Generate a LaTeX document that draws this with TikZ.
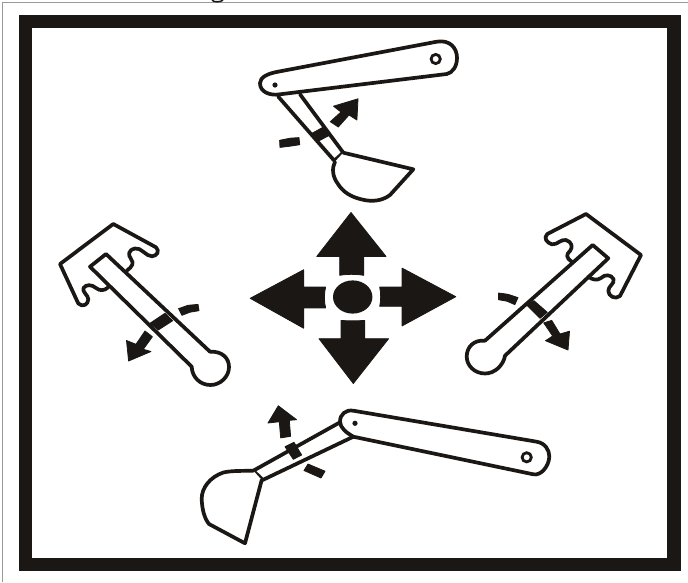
\documentclass[tikz,border=0pt]{standalone}
\definecolor{ink}{HTML}{1A1714}
\tikzset{
  outline/.style={draw=ink,line width=3.7pt,line join=round,line cap=round,fill=white},
  wire/.style={draw=ink,line width=3.7pt,line join=round,line cap=round},
  solid shape/.style={fill=ink,draw=ink,line width=0.8pt,line join=round},
  ring/.style={draw=ink,line width=2.8pt},
  frame rule/.style={draw=ink,line width=13.5pt},
  edge rule/.style={draw=black!40,line width=1pt}
}
\begin{document}
\begin{tikzpicture}[x=1pt,y=-1pt]
\useasboundingbox (0,0) rectangle (688,582);
\fill[white] (0,0) rectangle (688,582);
% thin outer rule and frame
\draw[edge rule] (2.5,582) -- (2.5,2.5) -- (688,2.5);
\draw[frame rule] (25.5,21.7) rectangle (674,564.5);
\draw[draw=ink,line width=1.5pt] (212,0) .. controls (213,2.4) and (221,2.4) .. (223,0);

% ---- centre cross
\path[solid shape] (351,212.5) -- (386,256.4) -- (363.6,256.4) -- (363.6,275.3) .. controls (356,274) and (347,274) .. (339.7,275.3) -- (339.7,256.4) -- (316.8,256.4) -- cycle;
\path[solid shape] (353.3,383.5) -- (319,338.7) -- (341.1,338.7) -- (341.1,320.4) .. controls (348,321) and (357,321) .. (364.6,320.4) -- (364.6,338.7) -- (388.6,338.7) -- cycle;
\path[solid shape] (250.2,298.3) -- (303.6,269.8) -- (303.6,287.1) -- (325.6,287.1) .. controls (324,293) and (324,302) .. (325.6,307.9) -- (303.6,307.9) -- (303.6,328.2) -- cycle;
\path[solid shape] (455.8,296.7) -- (402.1,268.1) -- (402.1,287.1) -- (379.7,287.1) .. controls (381,293) and (381,301) .. (379.7,306.3) -- (402.1,306.3) -- (402.1,325.9) -- cycle;
\fill[ink] (352.7,297) ellipse [x radius=19.7,y radius=16.6];

% ---- top excavator
\draw[wire] (278.3,96.7) -- (334.3,160.7) -- (343.3,152.7) -- (300,94.3);
\path[solid shape] (310.7,134) -- (324,126.7) -- (330,135) -- (317.3,141.7) -- cycle;
\draw[outline] (343.3,152.7) -- (413.3,169.3) -- (390,195) .. controls (382,201) and (372,202) .. (362,199.5) .. controls (351,197) and (343,192) .. (338,184) .. controls (332,176) and (332,168) .. (335,161.7);
\draw[outline] (278,71.7) -- (436.7,41.7) .. controls (450,39.5) and (457,48) .. (457,58) .. controls (457,67) and (452,73) .. (446.7,74) -- (280,94.3) .. controls (270,96) and (260,92) .. (260,83.3) .. controls (260,77) and (268,73.5) .. (278,71.7) -- cycle;
\fill[ink] (275,85) circle (2.6);
\draw[ring] (435.7,59) circle (4.6);
\path[solid shape] (358,98.8) -- (333.5,106.2) -- (341,112) -- (330.3,121.7) -- (338.3,127) -- (349,115) -- (356.9,120) -- cycle;
\path[solid shape] (279.6,140.3) -- (290,138.2) -- (299,137.6) -- (299.7,144.7) -- (290,146.2) -- (280,147.4) -- cycle;

% ---- bottom excavator
\draw[wire] (339.3,422.7) -- (253.3,470.7) -- (262.7,480) -- (353.3,436.7);
\path[solid shape] (285,446.7) -- (294,442.3) -- (301.7,455) -- (293.3,459.3) -- cycle;
\draw[outline] (253.3,470.7) .. controls (243,471) and (232,470.5) .. (223.3,472.5) .. controls (210,477) and (201.5,488) .. (201.7,499) .. controls (202,508) and (204,518) .. (209,524) -- (245,543.3) -- (261.7,480);
\draw[outline] (353.3,410.7) -- (536.7,441.7) .. controls (545,443) and (549.5,450) .. (549.3,456.7) .. controls (549,466) and (541,476) .. (533.3,474.3) -- (353.3,436.7) .. controls (347,433) and (340,428) .. (340,421.7) .. controls (340,414) and (346,409.5) .. (353.3,410.7) -- cycle;
\fill[ink] (355,423.3) circle (2.6);
\draw[ring] (526.7,457.3) circle (4.6);
\path[solid shape] (278.3,405.8) -- (268,423) -- (279.3,421.7) -- (280.7,437.9) -- (290.6,436.3) -- (289.3,420.3) -- (296.6,419.7) -- cycle;
\path[solid shape] (308,464) -- (325,471.2) -- (321,478) -- (304,470.5) -- cycle;

% ---- left lever
\draw[wire] (108.3,287.3) .. controls (104,291) and (100,291) .. (96,288) .. controls (92,284.5) and (86,284) .. (83.5,288) .. controls (82,292) and (88,295) .. (88.3,299) .. controls (88.5,304) and (83,308) .. (78.3,303.5) -- (60,264) -- (113.3,224) -- (156,247.3) .. controls (160,251) and (157,256) .. (152,256.3) .. controls (146,256.5) and (141,247) .. (135,248.5) .. controls (128,250) and (128,255) .. (131,259) .. controls (134,263) and (133,266) .. (126.7,270.7);
\draw[wire] (191.7,366.7) -- (90,266.7) -- (106,254) -- (210,351.7);
\draw[wire] (210,351.7) .. controls (222,351) and (229,358) .. (229,367) .. controls (229,377) and (220,385) .. (210.5,385) .. controls (200,385) and (192,377) .. (191.7,366.7);
\path[solid shape] (150,323.3) -- (165,313.3) -- (172.7,320.7) -- (158.3,330) -- cycle;
\path[solid shape] (128.6,361) -- (126.5,340.5) -- (136,344.3) -- (145,331) -- (152.4,336.7) -- (143.3,349.3) -- (151,351.5) -- cycle;
\path[solid shape] (178.6,308.6) -- (188,305.3) -- (198,304.4) -- (199,310.7) -- (190,312.2) -- (181.9,315.3) -- cycle;

% ---- right lever
\draw[wire] (588.3,276.7) .. controls (592,279.5) and (597,281) .. (601,278) .. controls (605,274) and (611,274.5) .. (613.5,279) .. controls (615,284) and (608,286) .. (608.3,291) .. controls (608.5,296) and (615,300) .. (620,296) -- (641,255) -- (586,214) -- (547.3,234) .. controls (543,238) and (547,243) .. (552,244.3) .. controls (557,245) and (561,239) .. (566,240) .. controls (572,242) and (573,247) .. (570,251) .. controls (566,254) and (566,258) .. (571.7,261.7);
\draw[wire] (505,355.7) -- (608.3,258.3) -- (592.7,245) -- (485,340.7);
\draw[wire] (485,340.7) .. controls (474,339.5) and (466.7,347) .. (466.7,356.5) .. controls (466.7,366) and (475,373.5) .. (485,373.5) .. controls (495,373.5) and (503.5,365) .. (505,355.7);
\path[solid shape] (526.7,305) -- (534,300.7) -- (547.3,312.3) -- (540,318.3) -- cycle;
\path[solid shape] (568,350) -- (569.5,331.2) -- (560,334) -- (551.7,320.4) -- (543.7,322.9) -- (552.7,336) -- (545.5,340.7) -- cycle;
\path[solid shape] (498.6,293) -- (508,294.3) -- (518,297.6) -- (514.8,304.6) -- (507,301.2) -- (498.6,299.7) -- cycle;
\end{tikzpicture}
\end{document}
